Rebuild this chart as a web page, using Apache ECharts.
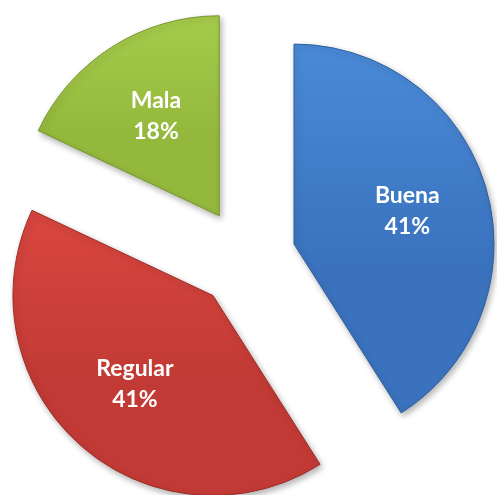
<!DOCTYPE html>
<html>
<head>
<meta charset="utf-8">
<script src="https://cdn.jsdelivr.net/npm/echarts@6/dist/echarts.min.js"></script>
<style>
  html, body { margin: 0; padding: 0; background: #fff; }
  #main { width: 497px; height: 495px; }
</style>
</head>
<body>
<div id="main"></div>
<script type="text/javascript">
var categories = ['Buena', 'Regular', 'Mala'];
var values = [41, 41, 18];
var colors = [
    ['#4a8ad8', '#3a72bd', '#2d5f9f'],
    ['#d9463f', '#c23a35', '#9e2c28'],
    ['#a6cc4c', '#93b83c', '#76962c']
];

(function(){
    var myChart = echarts.init(document.getElementById('main'));

    var sliceData = categories.map(function (name, i) {
        return {
            name: name,
            value: values[i],
            selected: true,
            itemStyle: {
                color: {
                    type: 'linear', x: 0, y: 0, x2: 0, y2: 1,
                    colorStops: [
                        { offset: 0, color: colors[i][0] },
                        { offset: 0.6, color: colors[i][1] },
                        { offset: 1, color: colors[i][1] }
                    ]
                },
                borderColor: colors[i][2],
                borderWidth: 1
            }
        };
    });

    // second transparent pie, only to push the labels a bit further out
    var labelData = categories.map(function (name, i) {
        return { name: name, value: values[i], selected: true };
    });

    var option = {
        animation: false,
        series: [
            {
                type: 'pie',
                center: [246, 258],
                radius: [0, 200],
                startAngle: 90,
                selectedMode: 'multiple',
                selectedOffset: 50,
                silent: true,
                label: { show: false },
                labelLine: { show: false },
                itemStyle: {
                    shadowBlur: 6,
                    shadowOffsetX: 2,
                    shadowOffsetY: 3,
                    shadowColor: 'rgba(0,0,0,0.3)'
                },
                select: { itemStyle: {} },
                data: sliceData
            },
            {
                type: 'pie',
                center: [246, 258],
                radius: [0, 230],
                startAngle: 90,
                selectedMode: 'multiple',
                selectedOffset: 50,
                silent: true,
                itemStyle: { color: 'rgba(0,0,0,0)' },
                label: {
                    show: true,
                    position: 'inside',
                    formatter: '{b}\n{d}%',
                    color: '#ffffff',
                    fontFamily: 'Lato',
                    fontWeight: 'bold',
                    fontSize: 23,
                    lineHeight: 31
                },
                labelLine: { show: false },
                data: labelData
            }
        ]
    };

    myChart.setOption(option);
})();
</script>
</body>
</html>
